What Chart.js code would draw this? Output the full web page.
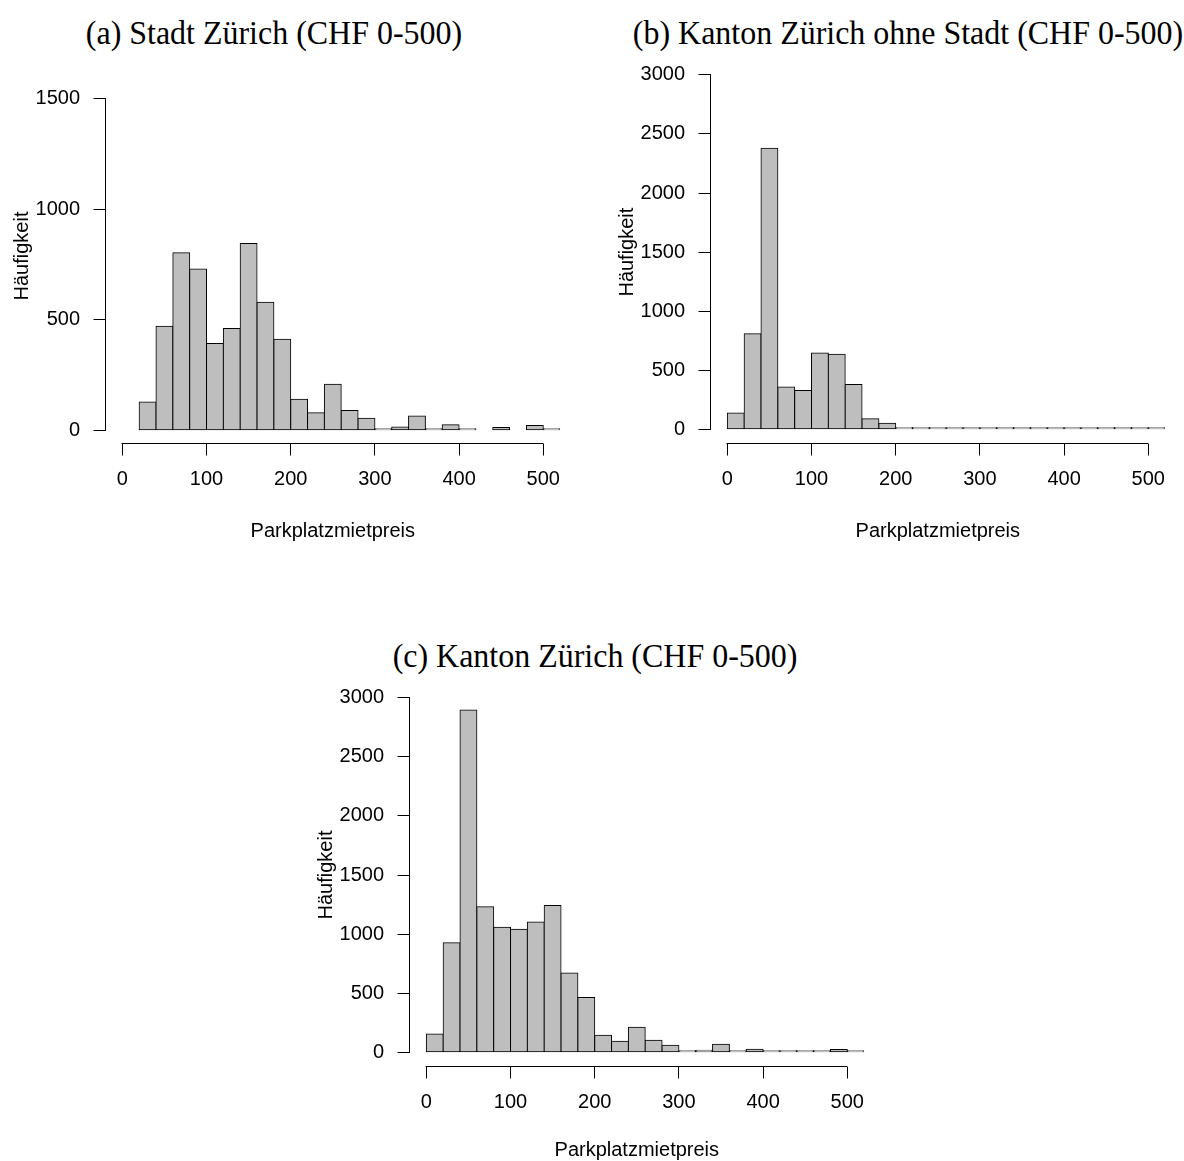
<!DOCTYPE html>
<html>
<head>
<meta charset="utf-8">
<script src="https://cdn.jsdelivr.net/npm/chart.js@4.4.0/dist/chart.umd.min.js"></script>
<style>
  html, body { margin: 0; padding: 0; background: #fff; }
  #page { position: relative; width: 1184px; height: 1161px; overflow: hidden; }
  #page canvas { position: absolute; }
  .title {
    position: absolute;
    font-family: "Liberation Serif", "Times New Roman", serif;
    font-size: 34px;
    line-height: 1;
    white-space: nowrap;
    transform: translateX(-50%) scaleX(0.94);
    color: #000;
  }
</style>
</head>
<body>
<div id="page">
  <div class="title" style="left:274px; top:15.5px;">(a) Stadt Zürich (CHF 0-500)</div>
  <div class="title" style="left:908px; top:15.5px;">(b) Kanton Zürich ohne Stadt (CHF 0-500)</div>
  <div class="title" style="left:595px; top:638.5px;">(c) Kanton Zürich (CHF 0-500)</div>
  <canvas id="chart-a" width="592" height="580" style="left:0px; top:0px;"></canvas>
  <canvas id="chart-b" width="592" height="580" style="left:592px; top:0px;"></canvas>
  <canvas id="chart-c" width="592" height="571" style="left:296px; top:590px;"></canvas>
</div>
<script>
// --- data: 20 CHF bins, each value is the left edge of its bin ---
const binStartsA = [20, 40, 60, 80, 100, 120, 140, 160, 180, 200, 220, 240, 260,
    280, 300, 320, 340, 360, 380, 400, 420, 440, 460, 480, 500];
const countsA = [128, 471, 804, 730, 393, 461, 846, 580, 412, 140, 79, 208, 89,
    54, 4, 15, 65, 7, 25, 3, 0, 12, 0, 21, 3];

const binStartsBC = [0, 20, 40, 60, 80, 100, 120, 140, 160, 180, 200, 220, 240,
    260, 280, 300, 320, 340, 360, 380, 400, 420, 440, 460, 480, 500];
const countsB = [138, 808, 2379, 359, 328, 647, 636, 379, 90, 51, 5, 14, 7,
    14, 6, 2, 2, 3, 2, 4, 2, 4, 4, 2, 3, 2];
const countsC = [155, 927, 2895, 1232, 1059, 1042, 1102, 1243, 672, 463, 144, 93, 212,
    102, 59, 6, 17, 68, 11, 25, 3, 3, 14, 1, 23, 3];

const xTickValues = [0, 100, 200, 300, 400, 500];
const yTickValuesA = [0, 500, 1000, 1500];
const yTickValuesBC = [0, 500, 1000, 1500, 2000, 2500, 3000];

const xLabel = 'Parkplatzmietpreis';
const yLabel = 'Häufigkeit';

const BIN = 20;
const SANS = "'Liberation Sans', Arial, Helvetica, sans-serif";

// R draws its axis line only from the first to the last tick
const rAxisLines = {
    id: 'rAxisLines',
    afterDraw(chart) {
        const {ctx, chartArea} = chart;
        const x = chart.scales.x, y = chart.scales.y;
        const xt = x.ticks, yt = y.ticks;
        const left = Math.round(chartArea.left - 0.5) + 0.5;
        const bottom = Math.round(chartArea.bottom - 0.5) + 0.5;
        ctx.save();
        ctx.strokeStyle = '#000';
        ctx.lineWidth = 1;
        ctx.beginPath();
        ctx.moveTo(left, Math.round(y.getPixelForValue(yt[0].value)) + 0.5);
        ctx.lineTo(left, Math.round(y.getPixelForValue(yt[yt.length - 1].value)) - 0.5);
        ctx.moveTo(Math.round(x.getPixelForValue(xt[0].value)) - 0.5, bottom);
        ctx.lineTo(Math.round(x.getPixelForValue(xt[xt.length - 1].value)) + 0.5, bottom);
        ctx.stroke();
        ctx.restore();
    }
};

function makeHist(canvasId, binStarts, counts, yTicks, lay) {
    const ctx = document.getElementById(canvasId).getContext('2d');
    // empty bins draw nothing
    const points = binStarts.map((s, i) => ({x: s + BIN / 2, y: counts[i] || null}));
    const yPad = yTicks[yTicks.length - 1] * 0.04;
    const tickFont = {family: SANS, size: 20, lineHeight: 1};

    return new Chart(ctx, {
        type: 'bar',
        data: {
            datasets: [{
                data: points,
                backgroundColor: '#bebebe',
                borderColor: '#000',
                borderWidth: 1,
                borderSkipped: false,
                inflateAmount: 0.5,
                minBarLength: 1.5,
                barPercentage: 1,
                categoryPercentage: 1,
            }]
        },
        options: {
            responsive: false,
            animation: false,
            events: [],
            layout: {
                padding: {left: 0, top: lay.top, right: lay.right, bottom: lay.bottom}
            },
            plugins: {
                legend: {display: false},
                tooltip: {enabled: false},
                title: {display: false},
            },
            scales: {
                x: {
                    type: 'linear',
                    min: -20,
                    max: 520,
                    offset: false,
                    bounds: 'data',
                    afterBuildTicks: (s) => { s.ticks = xTickValues.map(v => ({value: v})); },
                    afterFit: (s) => { s.height = lay.xHeight; },
                    grid: {drawOnChartArea: false, drawTicks: true, tickLength: 12,
                           color: '#000', lineWidth: 1, offset: false},
                    border: {display: false},
                    ticks: {autoSkip: false, maxRotation: 0, padding: 13.5, color: '#000',
                            font: tickFont, callback: (v) => String(v)},
                    title: {display: true, text: xLabel, color: '#000', font: tickFont,
                            padding: {top: 0, bottom: lay.xHeight - 10 - lay.xTitleGap}},
                },
                y: {
                    type: 'linear',
                    min: -yPad,
                    max: lay.yMax,
                    bounds: 'data',
                    afterBuildTicks: (s) => { s.ticks = yTicks.map(v => ({value: v})); },
                    afterFit: (s) => { s.width = lay.yWidth; },
                    grid: {drawOnChartArea: false, drawTicks: true, tickLength: 12,
                           color: '#000', lineWidth: 1},
                    border: {display: false},
                    ticks: {autoSkip: false, padding: 13.4, color: '#000',
                            font: tickFont, callback: (v) => String(v)},
                    title: {display: true, text: yLabel, color: '#000', font: tickFont,
                            padding: {top: lay.yWidth - 93.1, bottom: 0}},
                }
            }
        },
        plugins: [rAxisLines]
    });
}

// chart area of each panel, in canvas pixels
makeHist('chart-a', binStartsA, countsA, yTickValuesA,
    {yWidth: 105.5, right: 31.9, top: 68.5, bottom: 26.5, xHeight: 110, xTitleGap: 87.5, yMax: 1638});
makeHist('chart-b', binStartsBC, countsB, yTickValuesBC,
    {yWidth: 118.5, right: 18.9, top: 60.7, bottom: 26.5, xHeight: 110, xTitleGap: 87.5, yMax: 3120});
makeHist('chart-c', binStartsBC, countsC, yTickValuesBC,
    {yWidth: 113.5, right: 23.9, top: 93.5, bottom: 0, xHeight: 94.5, xTitleGap: 83.5, yMax: 3120});
</script>
</body>
</html>
